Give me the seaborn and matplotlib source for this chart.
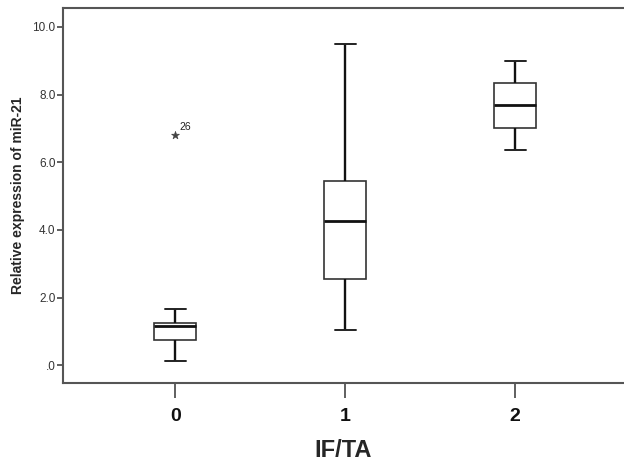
import pandas as pd
import matplotlib
matplotlib.use("Agg")
import matplotlib.pyplot as plt
import seaborn as sns

# five-number summaries (whisker low, Q1, median, Q3, whisker high)
groups = ["0", "1", "2"]
group0 = [0.12, 0.74, 1.15, 1.24, 1.66]
group1 = [1.04, 2.54, 4.26, 5.44, 9.50]
group2 = [6.36, 7.01, 7.69, 8.34, 9.00]

# extreme outlier (SPSS star)
outlier_group = ["0"]
outlier_value = [6.80]
outlier_label = ["26"]

ytick_vals = [0, 2, 4, 6, 8, 10]
ytick_labels = [".0", "2.0", "4.0", "6.0", "8.0", "10.0"]

rows = []
for g, vals in zip(groups, [group0, group1, group2]):
    for v in vals:
        rows.append({"IF/TA": g, "value": v})
df = pd.DataFrame(rows)
out_df = pd.DataFrame({"IF/TA": outlier_group, "value": outlier_value})

sns.set_style("white")
plt.rcParams['font.family'] = ['Liberation Sans', 'DejaVu Sans']

fig = plt.figure(figsize=(6.24, 4.65), dpi=100)
ax = fig.add_axes([0.101, 0.176, 0.899, 0.807])

sns.boxplot(data=df, x="IF/TA", y="value", order=groups, whis=(0, 100),
            width=0.25, color="white", showfliers=False, ax=ax,
            boxprops=dict(edgecolor="#333333", linewidth=1.2, facecolor="white"),
            whiskerprops=dict(color="#111111", linewidth=1.7),
            capprops=dict(color="#222222", linewidth=1.4),
            medianprops=dict(color="#111111", linewidth=2.0))

sns.scatterplot(data=out_df, x="IF/TA", y="value", marker="*", s=35,
                color="#444444", edgecolor="#444444", ax=ax, zorder=5)
for g, v, lab in zip(outlier_group, outlier_value, outlier_label):
    ax.annotate(lab, (groups.index(g), v), xytext=(3, 4), textcoords="offset points",
                fontsize=7.5, color="#222222")

ax.set_xlim(-0.66, 2.64)
ax.set_ylim(-0.53, 10.56)
ax.set_yticks(ytick_vals)
ax.set_yticklabels(ytick_labels, fontsize=8.5, color="#333333")
ax.set_xticks(range(len(groups)))
ax.set_xticklabels(groups, fontsize=14, fontweight="bold", color="#111111")

ax.tick_params(axis="y", direction="out", length=4.5, width=1.2, color="#444444", pad=1, left=True)
ax.tick_params(axis="x", direction="out", length=11, width=1.2, color="#444444", pad=7, bottom=True)

for side in ["left", "bottom", "top"]:
    ax.spines[side].set_color("#555555")
    ax.spines[side].set_linewidth(1.5)
ax.spines["right"].set_visible(False)

ax.set_ylabel("Relative expression of miR-21", fontsize=10, fontweight="bold", labelpad=5)
ax.set_xlabel("IF/TA", fontsize=17, fontweight="bold", labelpad=10)

fig.savefig("out.png", dpi=100)
